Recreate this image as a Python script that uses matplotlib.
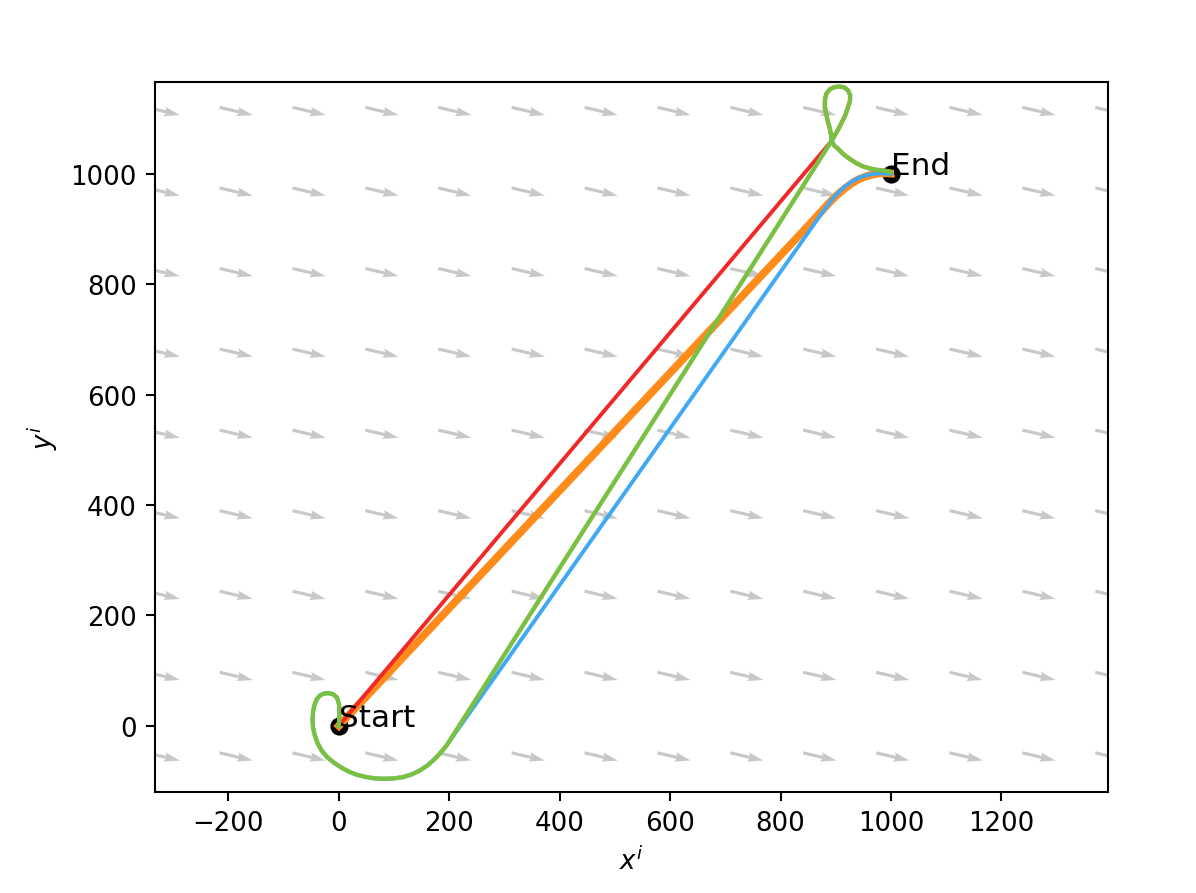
import numpy as np
import matplotlib
matplotlib.use("Agg")
import matplotlib.pyplot as plt

# ---- data ----
start = (0, 0)
end = (1000, 1000)

# wind-field grid (arrow tails) and vector
wind_x = [-348, -216, -84, 48, 180, 313, 445, 577, 709, 841, 973, 1106, 1238, 1370]
wind_y = [-49, 97, 244, 390, 536, 683, 829, 975, 1121]
wind_u = 60
wind_v = -14

# bottom loop shared by green and blue
loop_lo_x = [0, 1.0, 0.6, -1.5, -4.2, -11.0, -19.4, -27.5, -34.4, -40.0, -43.5, -46.5, -47.7,
             -46.8, -43.5, -38.5, -31.4, -21.5, -10.3, 4.0, 19.9, 35.0, 50.2, 65.0, 80.3,
             98.0, 116.5, 132.0, 146.7, 161.0, 173.9, 185.0, 195.1]
loop_lo_y = [0, 20.0, 36.8, 46.0, 52.0, 57.5, 59.2, 58.3, 54.9, 48.0, 39.9, 27.0, 12.7,
             -3.0, -17.5, -31.5, -44.7, -56.5, -65.8, -75.5, -83.9, -89.5, -93.0, -95.3, -96.0,
             -95.5, -93.0, -88.0, -81.0, -71.5, -59.8, -48.0, -35.7]

# upper loop shared by red and green (from crossing point to end)
loop_hi_x = [892.5, 898.0, 904.6, 910.5, 916.7, 921.5, 925.7, 926.0, 922.7, 916.0, 907.6,
             898.0, 889.5, 883.0, 880.4, 880.0, 882.2, 885.5, 889.5, 891.5, 892.5, 897.0,
             904.6, 914.0, 925.7, 937.0, 949.9, 962.0, 974.0, 986.0, 998.0, 1000.0]
loop_hi_y = [1060.3, 1070.0, 1081.5, 1093.0, 1105.6, 1119.0, 1132.8, 1143.0, 1151.0, 1157.0, 1158.8,
             1158.0, 1154.0, 1146.0, 1135.9, 1124.0, 1111.6, 1096.0, 1081.5, 1070.0, 1060.3, 1052.0,
             1045.3, 1036.0, 1027.2, 1020.0, 1013.8, 1010.0, 1007.8, 1006.5, 1005.0, 1003.0]

# end curve of blue path
blue_end_x = [856, 865, 875, 884, 892, 900, 908, 916, 925, 935, 946, 958, 970, 982, 992, 1000]
blue_end_y = [902.6, 915.5, 929.5, 942, 952.5, 962, 970, 977, 984, 990, 995, 998.5, 1000.5, 1001.5, 1001, 1000]

# orange path
orange_x = [0, 844, 856, 868, 879, 889, 899, 909, 919, 930, 942, 955, 968, 981, 992, 1000]
orange_y = [0, 900, 913, 926, 938, 949, 959, 968, 976, 984, 991, 996, 999.5, 1001.5, 1001.5, 1001]

red_x = [0] + loop_hi_x
red_y = [0] + loop_hi_y
green_x = loop_lo_x + loop_hi_x
green_y = loop_lo_y + loop_hi_y
blue_x = loop_lo_x + blue_end_x
blue_y = loop_lo_y + blue_end_y

# ---- figure ----
fig = plt.figure(figsize=(1196 / 187, 894 / 187), dpi=187)
ax = fig.add_axes([155 / 1196, 1 - 793 / 894, 953 / 1196, 710 / 894])

WX, WY = np.meshgrid(wind_x, wind_y)
ax.quiver(WX, WY, np.full(WX.shape, wind_u), np.full(WX.shape, wind_v),
          angles='xy', scale_units='xy', scale=1, color='#c8c8c8',
          width=0.0033, zorder=1)

ax.plot([start[0], end[0]], [start[1], end[1]], 'o', color='black',
        markersize=6, zorder=2)

ax.plot(orange_x, orange_y, color='#ff8c1a', lw=3.0, zorder=3,
        solid_joinstyle='round')
ax.plot(blue_x, blue_y, color='#3fa9f5', lw=1.5, zorder=4, solid_joinstyle='round')
ax.plot(red_x, red_y, color='#f02828', lw=1.5, zorder=5, solid_joinstyle='round')
ax.plot(green_x, green_y, color='#7ac143', lw=1.7, zorder=6, solid_joinstyle='round')

ax.text(start[0], start[1], 'Start', fontsize=12, zorder=7)
ax.text(end[0], end[1], 'End', fontsize=12, zorder=7)

ax.set_xlim(-333, 1393)
ax.set_ylim(-120, 1167)
ax.set_xticks([-200, 0, 200, 400, 600, 800, 1000, 1200])
ax.set_yticks([0, 200, 400, 600, 800, 1000])
ax.set_xlabel('$x^i$')
ax.set_ylabel('$y^i$')

fig.savefig('out.png', dpi=187)
